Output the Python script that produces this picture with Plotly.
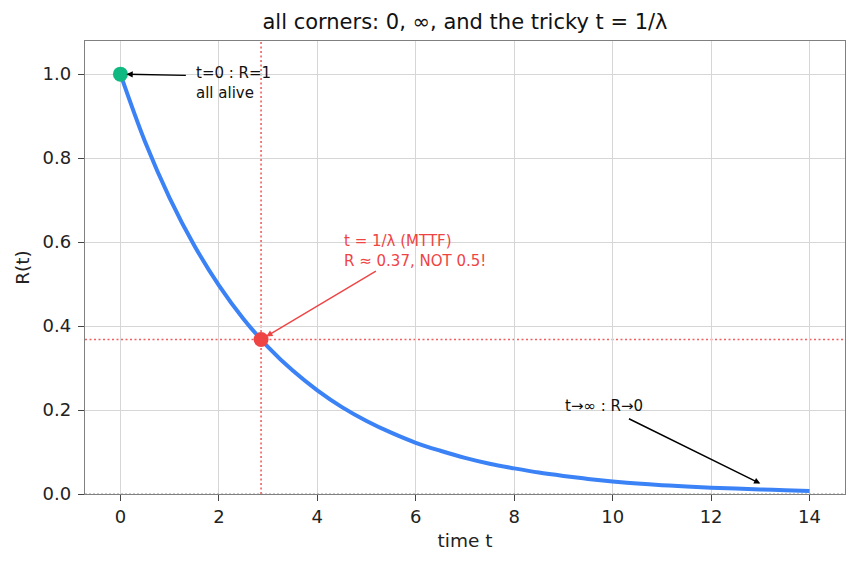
import plotly.graph_objects as go

# curve (time t, reliability R)
t_vals = [0, 0.5, 1, 1.5, 2, 2.5, 3, 3.5, 4, 4.5, 5, 5.5, 6, 6.5, 7, 7.5, 8, 8.5,
          9, 9.5, 10, 10.5, 11, 11.5, 12, 12.5, 13, 13.5, 14]
r_vals = [1.000, 0.839, 0.705, 0.592, 0.497, 0.417, 0.350, 0.294, 0.247, 0.207,
          0.174, 0.146, 0.122, 0.103, 0.086, 0.072, 0.061, 0.051, 0.043, 0.036,
          0.030, 0.025, 0.021, 0.018, 0.015, 0.013, 0.011, 0.009, 0.007]

start_pt = (0, 1.0)
mttf_pt = (2.857, 0.368)
tail_head = (13.0, 0.025)

x_ticks = [0, 2, 4, 6, 8, 10, 12, 14]
y_ticks = [0.0, 0.2, 0.4, 0.6, 0.8, 1.0]

BLUE = "#3b82f6"
GREEN = "#10b981"
RED = "#ef4444"
FONT = "DejaVu Sans"

fig = go.Figure()

# reference dotted lines
fig.add_shape(type="line", xref="x", yref="paper", x0=mttf_pt[0], x1=mttf_pt[0], y0=0, y1=1,
              line=dict(color=RED, width=1.6, dash="2px,2.5px"), opacity=0.85, layer="below")
fig.add_shape(type="line", xref="paper", yref="y", x0=0, x1=1, y0=mttf_pt[1], y1=mttf_pt[1],
              line=dict(color=RED, width=1.6, dash="2px,2.5px"), opacity=0.85, layer="below")
# baseline at zero
fig.add_shape(type="line", xref="paper", yref="y", x0=0, x1=1, y0=0, y1=0,
              line=dict(color="#999999", width=1.2, dash="2px,2px"), layer="above")

fig.add_trace(go.Scatter(x=t_vals, y=r_vals, mode="lines", line_shape="spline",
                         line=dict(color=BLUE, width=4), showlegend=False, hoverinfo="skip"))
fig.add_trace(go.Scatter(x=[start_pt[0]], y=[start_pt[1]], mode="markers",
                         marker=dict(color=GREEN, size=15), showlegend=False))
fig.add_trace(go.Scatter(x=[mttf_pt[0]], y=[mttf_pt[1]], mode="markers",
                         marker=dict(color=RED, size=15), showlegend=False))

# arrows
arrows = [
    dict(x=start_pt[0], y=start_pt[1], ax=1.36, ay=0.997, color="black", standoff=6),
    dict(x=mttf_pt[0], y=mttf_pt[1], ax=5.22, ay=0.533, color=RED, standoff=6),
    dict(x=tail_head[0], y=tail_head[1], ax=10.3, ay=0.181, color="black", standoff=0),
]
for a in arrows:
    fig.add_annotation(x=a["x"], y=a["y"], ax=a["ax"], ay=a["ay"], xref="x", yref="y",
                       axref="x", ayref="y", text="", showarrow=True, arrowhead=2,
                       arrowsize=0.9, arrowwidth=1.4, arrowcolor=a["color"], standoff=a["standoff"])

# texts
ANN_SIZE = 15
fig.add_annotation(x=1.5, y=0.979, xref="x", yref="y", text="t=0 : R=1<br>all alive",
                   showarrow=False, xanchor="left", yanchor="middle", align="left",
                   font=dict(family=FONT, size=ANN_SIZE, color="#111"))
fig.add_annotation(x=4.5, y=0.579, xref="x", yref="y",
                   text="t = 1/λ (MTTF)<br>R ≈ 0.37, NOT 0.5!",
                   showarrow=False, xanchor="left", yanchor="middle", align="left",
                   font=dict(family=FONT, size=ANN_SIZE, color=RED))
fig.add_annotation(x=9.0, y=0.209, xref="x", yref="y", text="t→∞ : R→0",
                   showarrow=False, xanchor="left", yanchor="middle", align="left",
                   font=dict(family=FONT, size=ANN_SIZE, color="#111"))

axis_common = dict(showgrid=True, gridcolor="#d6d6d6", gridwidth=1,
                   showline=True, linecolor="#808080", linewidth=1.4, mirror=True,
                   ticks="outside", ticklen=6, tickwidth=1.2, tickcolor="#444", zeroline=False,
                   tickfont=dict(family=FONT, size=18, color="#222"))

fig.update_xaxes(range=[-0.72, 14.72], tickvals=x_ticks, ticktext=[str(v) for v in x_ticks],
                 ticklabelstandoff=0,
                 title=dict(text="time t", font=dict(family=FONT, size=18.5, color="#222"), standoff=8),
                 **axis_common)
fig.update_yaxes(range=[0, 1.079], tickvals=y_ticks, ticktext=[f"{v:.1f}" for v in y_ticks],
                 ticklabelstandoff=3,
                 title=dict(text="R(t)", font=dict(family=FONT, size=18.5, color="#222"), standoff=8),
                 **axis_common)

fig.update_layout(
    width=858, height=567,
    margin=dict(l=85, r=13, t=41, b=73),
    paper_bgcolor="white", plot_bgcolor="white",
    title=dict(text="all corners: 0, ∞, and the tricky t = 1/λ", x=(85 + 845) / 2 / 858,
               xanchor="center", y=1 - 22 / 567, yanchor="middle",
               font=dict(family=FONT, size=21, color="#111")),
    showlegend=False,
)

fig.write_html("out.html")
